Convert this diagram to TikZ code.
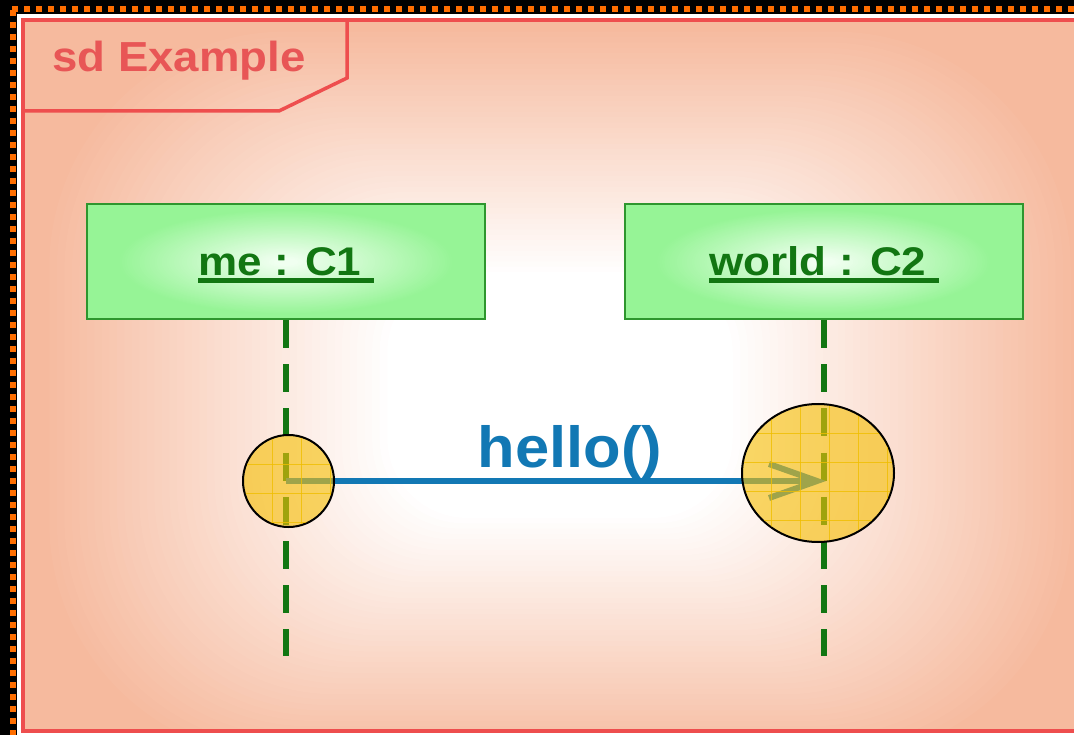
\documentclass[tikz,border=0pt]{standalone}
\usepackage{fontspec}
\setmainfont{Liberation Sans}
\usetikzlibrary{arrows.meta,shapes.geometric}
\definecolor{salm}{RGB}{246,186,158}
\definecolor{framered}{RGB}{238,78,78}
\definecolor{titlered}{RGB}{232,86,86}
\definecolor{dotorange}{RGB}{255,110,0}
\definecolor{boxin}{RGB}{240,255,240}
\definecolor{boxout}{RGB}{150,244,150}
\definecolor{boxborder}{RGB}{46,150,46}
\definecolor{objgreen}{RGB}{18,118,18}
\definecolor{msgblue}{RGB}{18,120,180}
\definecolor{hlyellow}{RGB}{246,192,10}
\definecolor{gridyellow}{RGB}{240,190,0}
% concentric-ellipse glow: centre x, centre y, x radius, y radius, inner colour, outer colour, r0, r1, max r
\newcommand\myglow[9]{%
  \foreach \myi in {80,...,1}{%
    \pgfmathsetmacro{\myr}{\myi/80*#9}%
    \pgfmathsetmacro{\mymix}{max(0,min(1,(\myr-#7)/(#8-#7)))*100}%
    \fill[#6!\mymix!#5] (#1,#2) ellipse [x radius={#3*\myr}, y radius={#4*\myr}];
  }%
}
% concentric rounded-rectangle glow, same arguments
\newcommand\myrectglow[9]{%
  \foreach \myi in {90,...,1}{%
    \pgfmathsetmacro{\myr}{\myi/90*#9}%
    \pgfmathsetmacro{\mymix}{max(0,min(1,(\myr-#7)/(#8-#7)))*100}%
    \pgfmathsetmacro{\myrad}{0.65*#4*\myr}%
    \pgfmathsetmacro{\myxa}{#1-#3*\myr}%
    \pgfmathsetmacro{\myxb}{#1+#3*\myr}%
    \pgfmathsetmacro{\myya}{#2-#4*\myr}%
    \pgfmathsetmacro{\myyb}{#2+#4*\myr}%
    \fill[#6!\mymix!#5, rounded corners=\myrad pt] (\myxa,\myya) rectangle (\myxb,\myyb);
  }%
}
\tikzset{
  framestroke/.style={draw=framered, line width=4pt},
  objbox/.style={rectangle, draw=boxborder, line width=2pt, minimum width=398pt, minimum height=115pt, inner sep=0pt},
  objlabel/.style={anchor=base, inner sep=0pt, font=\fontsize{40}{40}\selectfont\bfseries, text=objgreen},
  uline/.style={draw=objgreen, line width=4.5pt},
  lifeline/.style={draw=objgreen, line width=6pt, dash pattern=on 28pt off 16.2pt},
  msg/.style={draw=msgblue, line width=6pt, -{Straight Barb[length=48pt,width=34pt]}},
  msgtext/.style={anchor=base, inner sep=0pt, font=\fontsize{58}{58}\selectfont\bfseries, text=msgblue},
  hl/.style={ellipse, inner sep=0pt, fill=hlyellow, fill opacity=0.62, draw=black, line width=2pt},
  gridln/.style={draw=gridyellow, line width=0.8pt, opacity=0.8}
}
\begin{document}
\begin{tikzpicture}[x=1pt,y=-1pt]
\useasboundingbox (0,0) rectangle (1074,735);
\clip (0,0) rectangle (1074,735);
% outer background
\fill[black] (0,0) rectangle (1074,735);
\draw[dotorange, line width=6pt, dash pattern=on 6pt off 6pt] (12,9) -- (1080,9);
\draw[dotorange, line width=6pt, dash pattern=on 6pt off 6pt] (13,10) -- (13,740);
\fill[white] (16.5,14) rectangle (1080,740);
% frame background
\begin{scope}
\clip (23,20) rectangle (1100,731);
\fill[salm] (23,20) rectangle (1100,731);
\myrectglow{560}{395}{520}{370}{white}{salm}{0.33}{1.0}{1.3}
\end{scope}
\draw[framestroke] (23,20) rectangle (1100,731);
\draw[framered, line width=3.5pt] (23,20) -- (347,20) -- (347,78) -- (279,111) -- (23,111);
\node[anchor=base west, inner sep=0pt, font=\fontsize{42}{42}\selectfont\bfseries, text=titlered] (title) at (52,72) {\scalebox{1.085}[1]{sd Example}};
% object box fills
\begin{scope}
\clip (87,204) rectangle (485,319);
\fill[boxout] (87,204) rectangle (485,319);
\myglow{286}{262}{199}{62}{boxin}{boxout}{0.06}{0.85}{1.0}
\end{scope}
\begin{scope}
\clip (624.5,204) rectangle (1022.5,319);
\fill[boxout] (624.5,204) rectangle (1022.5,319);
\myglow{823.5}{262}{199}{62}{boxin}{boxout}{0.06}{0.85}{1.0}
\end{scope}
% objects
\node[objbox] (me) at (286,261.5) {};
\node[objbox] (world) at (823.5,261.5) {};
\node[objlabel] (melabel) at (286,276) {\scalebox{1.1}[1]{me : C1\ }};
\node[objlabel] (worldlabel) at (824,276) {\scalebox{1.1}[1]{world : C2\ }};
\draw[uline] ([yshift=-4.5pt]melabel.base west) -- ([yshift=-4.5pt]melabel.base east);
\draw[uline] ([yshift=-4.5pt]worldlabel.base west) -- ([yshift=-4.5pt]worldlabel.base east);
% lifelines
\coordinate (me-end) at (286,656);
\coordinate (world-end) at (823.5,656);
\draw[lifeline] (me.south) -- (me-end);
\draw[lifeline] (world.south) -- (world-end);
% message
\coordinate (me-act) at (286,481);
\coordinate (world-act) at (826,481);
\draw[msg] (me-act) -- (world-act);
\node[msgtext] (hello) at (570,467) {\scalebox{1.06}[1]{hello()}};
% highlights
\node[hl, minimum width=91pt, minimum height=92pt] (hl1) at (288.5,481) {};
\node[hl, minimum width=152pt, minimum height=138pt] (hl2) at (818,473) {};
\begin{scope}
\clip (288.5,481) ellipse [x radius=44.5, y radius=45];
\foreach \x in {272,301,330} \draw[gridln] (\x,430) -- (\x,530);
\foreach \y in {464,493,522} \draw[gridln] (240,\y) -- (340,\y);
\end{scope}
\begin{scope}
\clip (818,473) ellipse [x radius=75, y radius=68];
\foreach \x in {771,800,829,858,887} \draw[gridln] (\x,400) -- (\x,545);
\foreach \y in {433,462,491,520} \draw[gridln] (740,\y) -- (896,\y);
\end{scope}
\end{tikzpicture}
\end{document}
